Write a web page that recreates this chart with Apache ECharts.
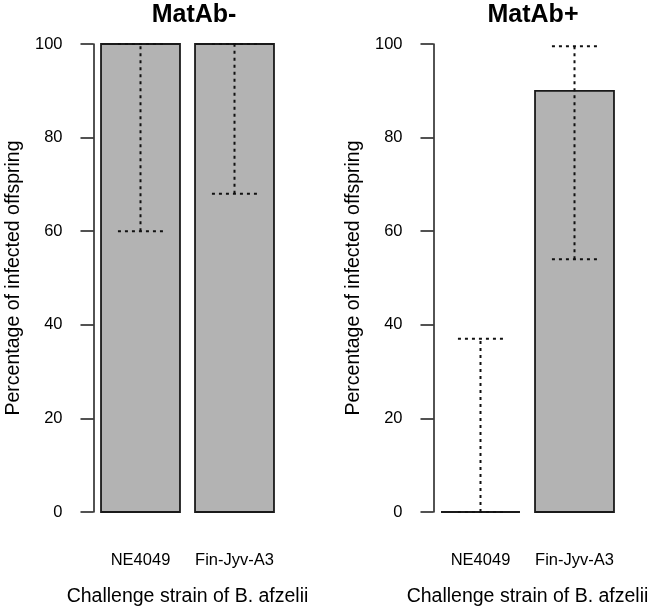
<!DOCTYPE html>
<html>
<head>
<meta charset="utf-8">
<script src="https://cdn.jsdelivr.net/npm/echarts@6/dist/echarts.min.js"></script>
<style>html,body{margin:0;padding:0;background:#fff;}#c{width:650px;height:609px;}</style>
</head>
<body>
<div id="c"></div>
<script>
var categories = ['NE4049', 'Fin-Jyv-A3'];
var panelTitles = ['MatAb-', 'MatAb+'];
var yTicks = [0, 20, 40, 60, 80, 100];
var minusValues = [100, 100];
var minusLower = [60, 68];
var minusUpper = [100, 100];
var plusValues = [0, 90];
var plusLower = [0, 54];
var plusUpper = [37, 99.5];

var FONT = '"Liberation Sans", Arial, sans-serif';
var chart = echarts.init(document.getElementById('c'), null, {renderer: 'canvas'});

function barData(vals) { return vals.map(function (v, i) { return [i, v]; }); }
function errData(lo, hi) { return lo.map(function (l, i) { return [i, l, hi[i]]; }); }

function renderBar(params, api) {
  var i = api.value(0), v = api.value(1);
  var p0 = api.coord([i, 0]);
  var p1 = api.coord([i, v]);
  var bw = api.size([1, 0])[0] * 0.84;
  var x = p0[0] - bw / 2;
  var h = p0[1] - p1[1];
  if (h < 0.5) {
    return {type: 'line', shape: {x1: x, y1: p0[1], x2: x + bw, y2: p0[1]},
      style: {stroke: '#1a1a1a', lineWidth: 1.8}};
  }
  return {type: 'rect', shape: {x: x, y: p1[1], width: bw, height: h},
    style: {fill: '#b3b3b3', stroke: '#1a1a1a', lineWidth: 1.8}};
}

function renderErr(params, api) {
  var i = api.value(0), lo = api.value(1), hi = api.value(2);
  var pl = api.coord([i, lo]);
  var ph = api.coord([i, hi]);
  var hw = api.size([1, 0])[0] * 0.24;
  var st = {stroke: '#111', lineWidth: 2, lineDash: [3, 4]};
  return {type: 'group', children: [
    {type: 'line', shape: {x1: pl[0], y1: pl[1], x2: ph[0], y2: ph[1]}, style: st},
    {type: 'line', shape: {x1: pl[0] - hw, y1: pl[1], x2: pl[0] + hw, y2: pl[1]}, style: st},
    {type: 'line', shape: {x1: ph[0] - hw, y1: ph[1], x2: ph[0] + hw, y2: ph[1]}, style: st}
  ]};
}

function yAxisDef(idx) {
  return {
    type: 'value', gridIndex: idx, min: yTicks[0], max: yTicks[yTicks.length - 1], interval: 20,
    name: 'Percentage of infected offspring', nameLocation: 'middle', nameGap: 70,
    nameTextStyle: {fontFamily: FONT, fontSize: 19.5, color: '#000'},
    axisLine: {show: true, lineStyle: {color: '#1a1a1a', width: 1.5}},
    axisTick: {show: true, length: 13, lineStyle: {color: '#1a1a1a', width: 1.5}},
    axisLabel: {margin: 31, fontFamily: FONT, fontSize: 16.5, color: '#000'},
    splitLine: {show: false}
  };
}
function xAxisDef(idx) {
  return {
    type: 'category', gridIndex: idx, data: categories,
    name: 'Challenge strain of B. afzelii', nameLocation: 'middle', nameGap: 75,
    nameTextStyle: {fontFamily: FONT, fontSize: 19.5, color: '#000'},
    axisLine: {show: false}, axisTick: {show: false},
    axisLabel: {interval: 0, margin: 40, fontFamily: FONT, fontSize: 16.5, color: '#000'},
    splitLine: {show: false}
  };
}

chart.setOption({
  animation: false,
  backgroundColor: '#fff',
  title: [
    {text: panelTitles[0], left: 189, top: -2, textAlign: 'center',
      textStyle: {fontFamily: FONT, fontSize: 25, fontWeight: 'bold', color: '#000'}},
    {text: panelTitles[1], left: 528, top: -2, textAlign: 'center',
      textStyle: {fontFamily: FONT, fontSize: 25, fontWeight: 'bold', color: '#000'}}
  ],
  grid: [
    {left: 93.5, width: 188, top: 44, height: 468, outerBoundsMode: 'none', containLabel: false},
    {left: 433.5, width: 188, top: 44, height: 468, outerBoundsMode: 'none', containLabel: false}
  ],
  xAxis: [xAxisDef(0), xAxisDef(1)],
  yAxis: [yAxisDef(0), yAxisDef(1)],
  series: [
    {type: 'custom', xAxisIndex: 0, yAxisIndex: 0, data: barData(minusValues), renderItem: renderBar, encode: {x: 0, y: 1}},
    {type: 'custom', xAxisIndex: 0, yAxisIndex: 0, data: errData(minusLower, minusUpper), renderItem: renderErr, encode: {x: 0, y: [1, 2]}, z: 3},
    {type: 'custom', xAxisIndex: 1, yAxisIndex: 1, data: barData(plusValues), renderItem: renderBar, encode: {x: 0, y: 1}},
    {type: 'custom', xAxisIndex: 1, yAxisIndex: 1, data: errData(plusLower, plusUpper), renderItem: renderErr, encode: {x: 0, y: [1, 2]}, z: 3}
  ]
});
</script>
</body>
</html>
